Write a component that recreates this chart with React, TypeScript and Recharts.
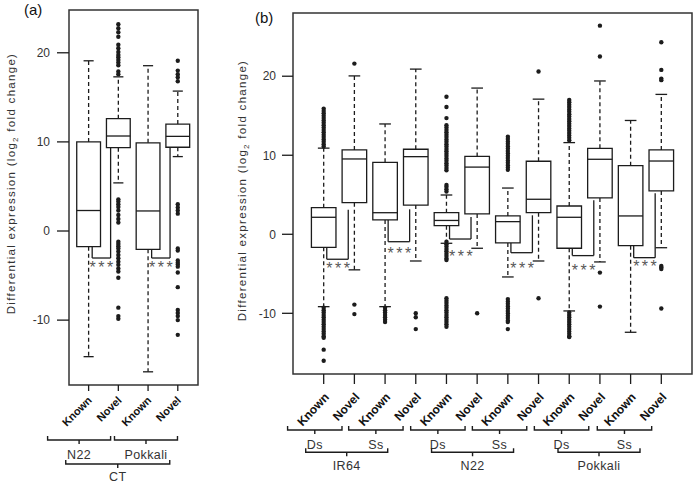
import React from 'react';
import { ComposedChart, XAxis, YAxis, Scatter, ReferenceArea, ReferenceLine } from 'recharts';

const INK = '#1c1c1c';
const GREY = '#333';
const STAR = '#585858';
const FONT = '"Liberation Sans", Arial, Helvetica, sans-serif';

// ---------- panel (a): CT, N22 vs Pokkali ----------
const catsA = ['Known', 'Novel', 'Known', 'Novel'];
const loA = [-14.1, 5.4, -15.8, 8.35];
const q1A = [-1.76, 9.35, -2.05, 9.4];
const medA = [2.3, 10.66, 2.25, 10.62];
const q3A = [10.0, 12.6, 9.9, 12.0];
const hiA = [19.1, 17.3, 18.55, 15.7];
const outA = [
    [],
    [23.2, 22.75, 22.3, 21.8, 20.9, 20.5, 20.1, 19.75, 19.5, 19.2, 18.9, 18.6, 17.9, 17.6,
        3.55, 3.3, 3.0, 2.7, 2.3, 1.8, 1.35, 0.95,
        -1.2, -1.45, -1.7, -1.95, -2.3, -2.7, -3.05, -3.45, -3.8, -4.2, -4.55, -5.25, -8.6, -9.55, -9.85],
    [],
    [19.1, 18.0, 17.6, 17.25, 16.8, 3.0, 2.65, 2.3, 1.95,
        -1.95, -2.2, -3.3, -3.55, -3.75, -4.0, -4.65, -6.3, -8.85, -9.2, -9.55, -10.0, -11.65],
];
const groupsA = ['N22', 'Pokkali'];
const sitesA = ['CT'];
// significance brackets: Known position, bracket level, Novel arm top, level of the stars
const sigPairA = [1, 3];
const sigLevelA = [-3.03, -3.03];
const sigTopA = [9.35, 9.39];
const sigStarA = [-3.74, -3.74];

// ---------- panel (b): IR64, N22, Pokkali x Ds/Ss ----------
const catsB = ['Known', 'Novel', 'Known', 'Novel', 'Known', 'Novel', 'Known', 'Novel', 'Known', 'Novel', 'Known', 'Novel'];
const loB = [-9.16, -4.5, -9.16, -3.38, -1.14, -1.77, -5.4, -3.38, -9.7, -3.5, -12.4, -1.7];
const q1B = [-1.65, 4.0, 1.81, 3.7, 1.09, 2.57, -1.1, 2.73, -1.77, 4.6, -1.44, 5.48];
const medB = [2.15, 9.53, 2.73, 9.82, 1.75, 8.5, 1.6, 4.43, 2.15, 9.49, 2.32, 9.27];
const q3B = [3.37, 10.67, 9.1, 10.76, 2.73, 9.85, 2.32, 9.24, 3.58, 10.88, 8.68, 10.67];
const hiB = [10.9, 20.04, 13.96, 20.9, 4.97, 18.5, 5.85, 17.1, 11.6, 19.4, 14.4, 17.7];
const outB = [
    [11.1, 11.4, 11.7, 12.0, 12.3, 12.6, 12.9, 13.2, 13.5, 13.8, 14.1, 14.4, 14.7, 15.0, 15.3, 15.6, 15.9,
        -9.3, -9.6, -9.9, -10.2, -10.5, -10.8, -11.1, -11.4, -11.7, -12.0, -12.3, -12.6, -12.9, -13.1, -14.6, -16.0],
    [21.6, -8.9, -10.1],
    [-9.3, -9.6, -9.9, -10.2, -10.5, -10.8, -11.1],
    [-10.0, -10.5, -12.0],
    [17.4, 16.1, 14.7, 13.8, 13.5, 13.2, 12.9, 12.6, 12.3, 12.0, 11.7, 11.4, 11.1, 10.8, 10.5, 10.2, 9.9, 9.6,
        9.3, 9.0, 8.7, 8.4, 8.1, 6.25, 6.0, 5.7, 5.4,
        -0.95, -1.25, -1.55, -1.85, -2.15, -2.45, -2.75, -3.05, -3.25,
        -8.1, -8.4, -8.7, -9.0, -9.3, -9.6, -9.9, -10.2, -10.5, -10.8, -11.1, -11.4, -11.7],
    [-10.0],
    [12.35, 12.05, 11.75, 11.45, 11.15, 10.85, 10.55, 10.25, 9.95, 9.65, 9.35, 9.05, 8.75, 8.45, 8.15,
        -8.2, -8.5, -8.8, -9.1, -9.4, -9.7, -10.0, -10.3, -10.6, -10.9, -11.1, -12.0],
    [20.6, -8.1],
    [11.9, 12.2, 12.5, 12.8, 13.1, 13.4, 13.7, 14.0, 14.3, 14.6, 14.9, 15.2, 15.5, 15.8, 16.1, 16.4, 16.7, 17.0,
        -9.9, -10.2, -10.5, -10.8, -11.1, -11.4, -11.7, -12.0, -12.3, -12.6, -12.9, -13.0],
    [26.4, 22.5, -4.85, -9.15],
    [],
    [24.3, 20.8, 19.7, 19.5, -4.0, -4.2, -4.4, -9.4],
];
const groupsB = ['Ds', 'Ss', 'Ds', 'Ss', 'Ds', 'Ss'];
const sitesB = ['IR64', 'N22', 'Pokkali'];
const sigPairB = [1, 3, 5, 7, 9, 11];
const sigLevelB = [-3.16, -0.94, -0.6, -2.33, -2.7, -2.96];
const sigTopB = [3.1, 3.16, 2.2, 2.4, 4.3, 5.2];
const sigStarB = [-4.0, -2.1, -2.4, -4.0, -4.2, -3.67];

// ---------- layout of the two panels ----------
const layoutA = {
    width: 215, height: 484, margin: { top: 10, right: 17, bottom: 0, left: 9 },
    tag: '(a)', tagX: 24, tagY: 15,
    xDomain: [0.34, 4.68], yDomain: [-17.28, 24.8], yTicks: [-10, 0, 10, 20],
    yTickLen: 12, yTickGap: 7, titleOff: 6, titleShift: -14,
    xTickLen: 6, axisH: [52, 25, 22],
    catFont: 11, catAngle: -45, catDx: 4, catDy: 10,
    boxHalf: 0.4, capHalf: 0.17, armL: 0.12, armR: 0.74, starDx: 0.42,
    grp: { lift: 3, gap: 22.4, half: 31.5 }, site: { lift: 2, gap: 19, half: 52 },
    groupAt: [0.68, 2.93], siteAt: [1.98],
};
const layoutB = {
    width: 477, height: 484, margin: { top: 13, right: 5, bottom: 0, left: 13 },
    tag: '(b)', tagX: 35, tagY: 23,
    xDomain: [0, 13], yDomain: [-17.68, 28.0], yTicks: [-10, 0, 10, 20],
    yTickLen: 11, yTickGap: 6, titleOff: 13, titleShift: -3,
    xTickLen: 10, axisH: [50, 25, 35],
    catFont: 12, catAngle: -47, catDx: 6, catDy: 13.6,
    boxHalf: 0.4, capHalf: 0.19, armL: 0.1, armR: 0.8, starDx: 0.46,
    grp: { lift: 6, gap: 24.7, half: 27.2 }, site: { lift: 3.3, gap: 21, half: 41 },
    groupAt: [0.71, 2.7, 4.72, 6.73, 8.75, 10.8], siteAt: [1.75, 5.85, 9.97],
};

// y-axis title, plus the panel letter in the top-left corner
const YTitle = ({ viewBox, L }: any) => {
    const cx = viewBox.x + L.titleOff;
    const cy = viewBox.y + viewBox.height / 2 + L.titleShift;
    return (
        <g>
            <text x={cx} y={cy} transform={`rotate(-90 ${cx} ${cy})`} textAnchor="middle" fontSize={11.5}
                letterSpacing={1.3} fill={GREY} fontFamily={FONT}>
                Differential expression (log<tspan fontSize={8} dy={3}>2</tspan><tspan dy={-3}> fold change)</tspan>
            </text>
            <text x={L.tagX} y={L.tagY} fontSize={15} fill="#111" fontFamily={FONT}>{L.tag}</text>
        </g>
    );
};

const CatTick = ({ x, y, payload, labels, L }: any) => {
    const ax = x + L.catDx;
    const ay = y + L.catDy;
    return (
        <text x={ax} y={ay} transform={`rotate(${L.catAngle} ${ax} ${ay})`} textAnchor="end" fontWeight="bold"
            fontSize={L.catFont} fill="#111" fontFamily={FONT}>
            {labels[Math.round(payload.value) - 1]}
        </text>
    );
};

const Brace = ({ x, y, index, labels, b }: any) => {
    const yb = y + b.lift;
    return (
        <g>
            <path d={`M${x - b.half},${yb - 4}V${yb}H${x + b.half}V${yb - 4}M${x},${yb}V${yb + 4}`}
                stroke={INK} strokeWidth={1.4} fill="none" />
            <text x={x} y={y + b.gap} textAnchor="middle" fontSize={12.5} letterSpacing={0.4} fill={GREY} fontFamily={FONT}>
                {labels[index]}
            </text>
        </g>
    );
};

const Nothing = () => <g />;

const BoxPanel: React.FC<any> = ({ cats, lo, q1, med, q3, hi, out, groups, sites, sigPair, sigLevel, sigTop, sigStar, L }) => {
    const idx = cats.map((_: string, i: number) => i + 1);
    const dots = out.flatMap((vals: number[], i: number) => vals.map((v) => ({ x: i + 1, y: v })));
    const stars = sigPair.map((k: number, j: number) => ({ x: k + L.starDx, y: sigStar[j] }));
    // anchor points so that the label axes get a domain of their own
    const grpPts = L.groupAt.map((x: number) => ({ x, y: 0 }));
    const sitePts = L.siteAt.map((x: number) => ({ x, y: 0 }));

    const seg = (key: string, x1: number, y1: number, x2: number, y2: number, dashed = false) => (
        <ReferenceLine key={key} xAxisId="a1" yAxisId="v" ifOverflow="visible"
            segment={[{ x: x1, y: y1 }, { x: x2, y: y2 }]}
            stroke={INK} strokeWidth={1.3} strokeDasharray={dashed ? '4 3' : undefined} />
    );

    return (
        <ComposedChart width={L.width} height={L.height} margin={L.margin}>
            <XAxis xAxisId="a1" type="number" dataKey="x" domain={L.xDomain} allowDataOverflow ticks={idx} interval={0}
                axisLine={false} tickLine={{ stroke: INK, strokeWidth: 1.3 }} tickSize={L.xTickLen} tickMargin={0}
                height={L.axisH[0]} tick={(p: any) => <CatTick {...p} labels={cats} L={L} />} />
            <XAxis xAxisId="a2" type="number" dataKey="x" domain={L.xDomain} allowDataOverflow ticks={L.groupAt} interval={0}
                axisLine={false} tickLine={false} tickSize={0} tickMargin={0} height={L.axisH[1]}
                tick={(p: any) => <Brace {...p} labels={groups} b={L.grp} />} />
            <XAxis xAxisId="a3" type="number" dataKey="x" domain={L.xDomain} allowDataOverflow ticks={L.siteAt} interval={0}
                axisLine={false} tickLine={false} tickSize={0} tickMargin={0} height={L.axisH[2]}
                tick={(p: any) => <Brace {...p} labels={sites} b={L.site} />} />
            <YAxis yAxisId="v" type="number" dataKey="y" domain={L.yDomain} allowDataOverflow ticks={L.yTicks} interval={0}
                axisLine={false} tickLine={{ stroke: INK, strokeWidth: 1.3 }} tickSize={L.yTickLen} tickMargin={L.yTickGap}
                width={60} tick={{ fill: GREY, fontSize: 12, fontFamily: FONT }}
                label={<YTitle L={L} />} />

            {/* plot frame */}
            <ReferenceArea xAxisId="a1" yAxisId="v" x1={L.xDomain[0]} x2={L.xDomain[1]} y1={L.yDomain[0]} y2={L.yDomain[1]}
                fill="none" fillOpacity={0} stroke="#333" strokeWidth={1.5} ifOverflow="visible" />

            {/* boxes, medians, whiskers */}
            {idx.map((x: number, i: number) => (
                <ReferenceArea key={`box${i}`} xAxisId="a1" yAxisId="v" x1={x - L.boxHalf} x2={x + L.boxHalf} y1={q1[i]} y2={q3[i]}
                    fill="none" fillOpacity={0} stroke={INK} strokeWidth={1.3} ifOverflow="visible" />
            ))}
            {idx.map((x: number, i: number) => seg(`med${i}`, x - L.boxHalf, med[i], x + L.boxHalf, med[i]))}
            {idx.map((x: number, i: number) => seg(`wu${i}`, x, q3[i], x, hi[i], true))}
            {idx.map((x: number, i: number) => seg(`wl${i}`, x, q1[i], x, lo[i], true))}
            {idx.map((x: number, i: number) => seg(`cu${i}`, x - L.capHalf, hi[i], x + L.capHalf, hi[i]))}
            {idx.map((x: number, i: number) => seg(`cl${i}`, x - L.capHalf, lo[i], x + L.capHalf, lo[i]))}

            {/* Known vs Novel brackets */}
            {sigPair.map((k: number, j: number) => seg(`sl${j}`, k + L.armL, q1[k - 1], k + L.armL, sigLevel[j]))}
            {sigPair.map((k: number, j: number) => seg(`sb${j}`, k + L.armL, sigLevel[j], k + L.armR, sigLevel[j]))}
            {sigPair.map((k: number, j: number) => seg(`sr${j}`, k + L.armR, sigLevel[j], k + L.armR, sigTop[j]))}

            <Scatter xAxisId="a1" yAxisId="v" data={dots} isAnimationActive={false}
                shape={(p: any) => <circle cx={p.cx} cy={p.cy} r={2.2} fill={INK} />} />
            <Scatter xAxisId="a1" yAxisId="v" data={stars} isAnimationActive={false}
                shape={(p: any) => (
                    <text x={p.cx + 1.5} y={p.cy + 8.3} textAnchor="middle" fontSize={16} letterSpacing={2.5}
                        fill={STAR} fontFamily={FONT}>***</text>
                )} />
            <Scatter xAxisId="a2" yAxisId="v" data={grpPts} isAnimationActive={false} shape={Nothing} />
            <Scatter xAxisId="a3" yAxisId="v" data={sitePts} isAnimationActive={false} shape={Nothing} />
        </ComposedChart>
    );
};

export default function App() {
    return (
        <div style={{ position: 'absolute', left: 0, top: 0, width: 697, height: 484, background: '#fff', fontFamily: FONT }}>
            <div style={{ position: 'absolute', left: 0, top: 0 }}>
                <BoxPanel cats={catsA} lo={loA} q1={q1A} med={medA} q3={q3A} hi={hiA} out={outA}
                    groups={groupsA} sites={sitesA} sigPair={sigPairA} sigLevel={sigLevelA} sigTop={sigTopA}
                    sigStar={sigStarA} L={layoutA} />
            </div>
            <div style={{ position: 'absolute', left: 220, top: 0 }}>
                <BoxPanel cats={catsB} lo={loB} q1={q1B} med={medB} q3={q3B} hi={hiB} out={outB}
                    groups={groupsB} sites={sitesB} sigPair={sigPairB} sigLevel={sigLevelB} sigTop={sigTopB}
                    sigStar={sigStarB} L={layoutB} />
            </div>
        </div>
    );
}
